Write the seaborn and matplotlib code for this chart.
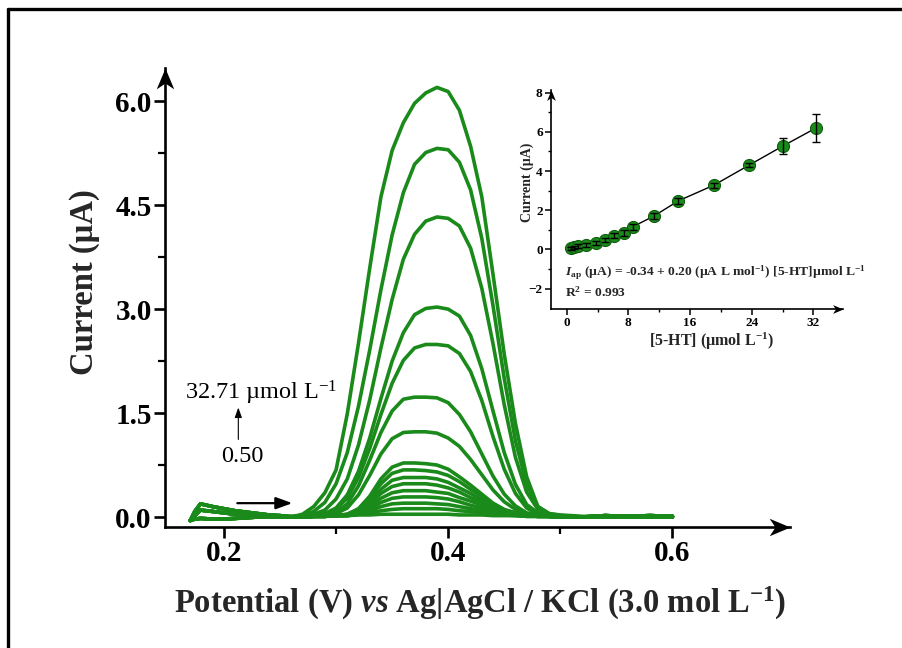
import numpy as np
import pandas as pd
import matplotlib
matplotlib.use("Agg")
import matplotlib.pyplot as plt
import seaborn as sns
from matplotlib.path import Path
from matplotlib.lines import Line2D

# ---------------- data ----------------
# potentials of the shared left baseline (scan start), peak region and right tail (V)
E_LEFT = [0.170, 0.174, 0.179, 0.19, 0.20, 0.21, 0.22, 0.23, 0.24, 0.25]
E_PEAK = [0.26, 0.27, 0.28, 0.29, 0.30, 0.31, 0.32, 0.33, 0.34, 0.35, 0.36, 0.37, 0.38,
          0.39, 0.40, 0.41, 0.42, 0.43, 0.44, 0.45, 0.46, 0.47, 0.48, 0.49, 0.50, 0.51, 0.52]
E_RIGHT = [0.53, 0.54, 0.56, 0.58, 0.60]

# baseline currents at scan start (three variants seen in the band) and at the tail (uA)
left_hi = [-0.05, 0.08, 0.19, 0.15, 0.12, 0.09, 0.07, 0.05, 0.03, 0.02]
left_mid = [-0.05, 0.02, 0.10, 0.08, 0.06, 0.04, 0.03, 0.02, 0.01, 0.01]
left_lo = [-0.05, -0.03, -0.02, -0.03, -0.03, -0.02, -0.01, 0.00, 0.00, 0.00]
right_lo = [0.00, 0.00, 0.00, 0.00, 0.00]
right_hi = [0.01, 0.02, 0.01, 0.02, 0.01]

# peak-region currents of each DPV curve (uA)
i_blank = [0.00, 0.00, 0.01, 0.01, 0.02, 0.02, 0.03, 0.03, 0.04, 0.04, 0.04, 0.04, 0.04, 0.04, 0.04, 0.03, 0.03, 0.03, 0.02, 0.02, 0.02, 0.01, 0.01, 0.01, 0.00, 0.00, 0.00]
i_c01 = [0.00, 0.00, 0.01, 0.01, 0.02, 0.02, 0.04, 0.06, 0.09, 0.11, 0.12, 0.12, 0.12, 0.12, 0.11, 0.09, 0.08, 0.06, 0.04, 0.03, 0.02, 0.01, 0.01, 0.01, 0.00, 0.00, 0.00]
i_c02 = [0.00, 0.00, 0.01, 0.01, 0.02, 0.02, 0.05, 0.09, 0.15, 0.19, 0.20, 0.20, 0.20, 0.19, 0.18, 0.15, 0.12, 0.09, 0.06, 0.04, 0.03, 0.01, 0.01, 0.01, 0.00, 0.00, 0.00]
i_c03 = [0.00, 0.00, 0.01, 0.01, 0.02, 0.02, 0.06, 0.12, 0.21, 0.27, 0.29, 0.29, 0.29, 0.28, 0.26, 0.22, 0.17, 0.13, 0.08, 0.05, 0.03, 0.02, 0.01, 0.01, 0.00, 0.00, 0.00]
i_c04 = [0.00, 0.00, 0.01, 0.01, 0.02, 0.03, 0.07, 0.16, 0.27, 0.35, 0.38, 0.38, 0.38, 0.36, 0.34, 0.28, 0.23, 0.17, 0.10, 0.06, 0.04, 0.02, 0.01, 0.01, 0.00, 0.00, 0.00]
i_c05 = [0.00, 0.00, 0.01, 0.01, 0.02, 0.03, 0.09, 0.19, 0.34, 0.44, 0.48, 0.48, 0.48, 0.46, 0.42, 0.36, 0.28, 0.21, 0.13, 0.08, 0.04, 0.02, 0.01, 0.01, 0.00, 0.00, 0.00]
i_c06 = [0.00, 0.00, 0.01, 0.01, 0.02, 0.03, 0.10, 0.23, 0.40, 0.53, 0.57, 0.57, 0.57, 0.55, 0.50, 0.42, 0.34, 0.24, 0.15, 0.09, 0.05, 0.02, 0.01, 0.01, 0.00, 0.00, 0.00]
i_c07 = [0.00, 0.00, 0.01, 0.01, 0.02, 0.04, 0.11, 0.27, 0.48, 0.63, 0.68, 0.68, 0.67, 0.65, 0.60, 0.51, 0.40, 0.29, 0.18, 0.10, 0.06, 0.02, 0.01, 0.01, 0.00, 0.00, 0.00]
i_c08 = [0.00, 0.00, 0.01, 0.01, 0.02, 0.04, 0.12, 0.30, 0.55, 0.72, 0.78, 0.78, 0.77, 0.75, 0.69, 0.58, 0.46, 0.33, 0.20, 0.11, 0.06, 0.03, 0.01, 0.01, 0.00, 0.00, 0.00]
i_c09 = [0.00, 0.00, 0.01, 0.01, 0.05, 0.13, 0.32, 0.60, 0.91, 1.13, 1.22, 1.23, 1.23, 1.21, 1.14, 1.02, 0.83, 0.61, 0.39, 0.22, 0.11, 0.04, 0.02, 0.01, 0.00, 0.00, 0.00]
i_c10 = [0.00, 0.00, 0.01, 0.02, 0.07, 0.19, 0.45, 0.82, 1.22, 1.53, 1.70, 1.73, 1.73, 1.72, 1.65, 1.48, 1.23, 0.91, 0.59, 0.33, 0.16, 0.06, 0.03, 0.01, 0.00, 0.00, 0.00]
i_c11 = [0.00, 0.00, 0.02, 0.04, 0.12, 0.27, 0.57, 0.99, 1.48, 1.93, 2.26, 2.44, 2.49, 2.49, 2.47, 2.36, 2.10, 1.68, 1.16, 0.69, 0.34, 0.13, 0.04, 0.02, 0.01, 0.00, 0.00]
i_c12 = [0.00, 0.00, 0.02, 0.05, 0.13, 0.32, 0.66, 1.14, 1.71, 2.25, 2.66, 2.92, 3.01, 3.03, 3.00, 2.90, 2.62, 2.14, 1.53, 0.93, 0.47, 0.18, 0.06, 0.02, 0.01, 0.00, 0.00]
i_c13 = [0.01, 0.01, 0.04, 0.10, 0.26, 0.55, 1.04, 1.69, 2.44, 3.14, 3.72, 4.08, 4.27, 4.33, 4.31, 4.20, 3.88, 3.30, 2.50, 1.62, 0.86, 0.36, 0.11, 0.04, 0.01, 0.01, 0.00]
i_c14 = [0.01, 0.02, 0.08, 0.21, 0.48, 0.93, 1.60, 2.41, 3.28, 4.07, 4.68, 5.09, 5.26, 5.32, 5.30, 5.12, 4.72, 4.02, 3.05, 2.00, 1.10, 0.47, 0.15, 0.05, 0.02, 0.01, 0.00]
i_c15 = [0.00, 0.04, 0.15, 0.35, 0.68, 1.49, 2.51, 3.59, 4.62, 5.29, 5.69, 5.97, 6.12, 6.20, 6.14, 5.87, 5.35, 4.62, 3.50, 2.35, 1.35, 0.58, 0.15, 0.05, 0.03, 0.02, 0.01]

curves = [i_blank, i_c01, i_c02, i_c03, i_c04, i_c05, i_c06, i_c07, i_c08,
          i_c09, i_c10, i_c11, i_c12, i_c13, i_c14, i_c15]
left_variants = [left_lo, left_mid, left_hi]
right_variants = [right_lo, right_hi]

# inset: calibration points
conc = [0.50, 0.99, 1.48, 2.44, 3.85, 4.98, 6.18, 7.40, 8.60, 11.30, 14.50, 19.10, 23.70, 28.10, 32.40]
ip = [0.05, 0.10, 0.17, 0.24, 0.34, 0.48, 0.70, 0.82, 1.16, 1.70, 2.48, 3.28, 4.31, 5.29, 6.21]
ip_err = [0.08, 0.08, 0.10, 0.10, 0.10, 0.10, 0.12, 0.15, 0.15, 0.15, 0.15, 0.12, 0.12, 0.40, 0.72]

main_yticks = [0.0, 1.5, 3.0, 4.5, 6.0]
main_yticklabels = ["0.0", "1.5", "3.0", "4.5", "6.0"]
main_xticks = [0.2, 0.4, 0.6]
main_xticklabels = ["0.2", "0.4", "0.6"]
inset_xticks = [0, 8, 16, 24, 32]
inset_yticks = [-2, 0, 2, 4, 6, 8]

GREEN = "#1a8a1a"

# ---------------- style ----------------
sns.set_theme(style="ticks")
plt.rcParams["font.family"] = ["Liberation Serif", "DejaVu Serif"]
plt.rcParams["mathtext.fontset"] = "custom"
plt.rcParams["mathtext.rm"] = "Liberation Serif"
plt.rcParams["mathtext.it"] = "Liberation Serif:italic"
plt.rcParams["mathtext.bf"] = "Liberation Serif:bold"
plt.rcParams["mathtext.bfit"] = "Liberation Serif:italic:bold"

W, H = 903, 648
fig = plt.figure(figsize=(W / 100, H / 100), dpi=100)
fig.patch.set_facecolor("white")


def fx(px):
    return px / W


def fy(py):
    return 1 - py / H


# arrow-head marker paths (tip at origin)
up_head = Path([(0, 0), (-0.42, -1), (0, -0.72), (0.42, -1), (0, 0)],
               [Path.MOVETO, Path.LINETO, Path.LINETO, Path.LINETO, Path.CLOSEPOLY])
right_head = Path([(0, 0), (-1, 0.42), (-0.72, 0), (-1, -0.42), (0, 0)],
                  [Path.MOVETO, Path.LINETO, Path.LINETO, Path.LINETO, Path.CLOSEPOLY])

# ---------------- main axes ----------------
ax = fig.add_axes([fx(165), fy(527), fx(790) - fx(165), fy(68) - fy(527)])
rows = []
for k, cur in enumerate(curves):
    lv = left_variants[k % 3]
    rv = right_variants[k % 2]
    es = E_LEFT + E_PEAK + E_RIGHT
    vals = lv + cur + rv
    for e, v in zip(es, vals):
        rows.append({"curve": k, "E": e, "I": v})
df = pd.DataFrame(rows)
sns.lineplot(data=df, x="E", y="I", units="curve", estimator=None, sort=False,
             color=GREEN, linewidth=2.6, ax=ax, legend=False)

ax.set_xlim(0.1474, 0.7049)
ax.set_ylim(-0.144, 6.48)
sns.despine(ax=ax)
for s in ["left", "bottom"]:
    ax.spines[s].set_linewidth(1.9)
    ax.spines[s].set_color("black")
ax.set_yticks(main_yticks)
ax.set_yticklabels(main_yticklabels)
ax.set_yticks([0.75, 2.25, 3.75, 5.25], minor=True)
ax.set_xticks(main_xticks)
ax.set_xticklabels(main_xticklabels)
ax.set_xticks([0.3, 0.5], minor=True)
ax.tick_params(which="major", direction="out", length=8, width=1.9, labelsize=21,
               colors="black", pad=1.5)
ax.tick_params(which="minor", direction="out", length=5, width=1.6, colors="black")
for lab in ax.get_xticklabels() + ax.get_yticklabels():
    lab.set_fontweight("bold")
ax.set_xlabel("")
ax.set_ylabel("")
ax.plot([0], [1], transform=ax.transAxes, marker=up_head, ms=30, color="black",
        mew=0, clip_on=False, zorder=5)
ax.plot([1], [0], transform=ax.transAxes, marker=right_head, ms=30, color="black",
        mew=0, clip_on=False, zorder=5)

# annotations
ax.text(0.1655, 1.79, "32.71 µmol L$^{\\mathregular{-1}}$", fontsize=17.5, ha="left",
        va="center", color="black")
ax.text(0.2160, 0.88, "0.50", fontsize=17.5, ha="center", va="center", color="black")
ax.annotate("", xy=(0.2128, 1.58), xytext=(0.2128, 1.12),
            arrowprops=dict(arrowstyle="-|>,head_length=0.5,head_width=0.18",
                            lw=0.8, color="black", shrinkA=0, shrinkB=0,
                            mutation_scale=12))
ax.annotate("", xy=(0.2610, 0.20), xytext=(0.2119, 0.20),
            arrowprops=dict(arrowstyle="-|>,head_length=0.55,head_width=0.2",
                            lw=1.6, color="black", shrinkA=0, shrinkB=0,
                            mutation_scale=18))

fig.text(fx(85), fy(282), "Current (µA)", rotation=90, fontsize=23.5,
         fontweight="bold", ha="center", va="center")
fig.text(fx(480), fy(603),
         "Potential (V) $\\mathbfit{vs}$ Ag|AgCl / KCl (3.0 mol L$^{\\mathbf{-1}}$)",
         fontsize=23.5, fontweight="bold", ha="center", va="center")

# ---------------- inset ----------------
ax2 = fig.add_axes([fx(551), fy(308.7), fx(843) - fx(551), fy(90) - fy(308.7)])
ax2.patch.set_alpha(0)
sns.lineplot(x=conc, y=ip, color="black", linewidth=1.0, ax=ax2, zorder=2)
ax2.errorbar(conc, ip, yerr=ip_err, fmt="none", ecolor="black", elinewidth=1.0,
             capsize=3, capthick=1.0, zorder=4)
sns.scatterplot(x=conc, y=ip, s=75, color=GREEN, edgecolor="#0e5e0e", linewidth=0.8,
                ax=ax2, zorder=3)
ax2.set_xlim(-2.04, 35.85)
ax2.set_ylim(-3.03, 8.14)
sns.despine(ax=ax2)
for s in ["left", "bottom"]:
    ax2.spines[s].set_linewidth(1.2)
    ax2.spines[s].set_color("black")
ax2.set_xticks(inset_xticks)
ax2.set_xticks([4, 12, 20, 28], minor=True)
ax2.set_yticks(inset_yticks)
ax2.set_yticks([-1, 1, 3, 5, 7], minor=True)
ax2.tick_params(which="major", direction="out", length=4, width=1.1, labelsize=9.5,
                colors="black", pad=2)
ax2.tick_params(which="minor", direction="out", length=2.5, width=1.0, colors="black")
for lab in ax2.get_xticklabels() + ax2.get_yticklabels():
    lab.set_fontweight("bold")
ax2.set_xlabel("")
ax2.set_ylabel("")
ax2.plot([0], [1], transform=ax2.transAxes, marker=up_head, ms=15, color="black",
         mew=0, clip_on=False, zorder=5)
ax2.plot([1], [0], transform=ax2.transAxes, marker=right_head, ms=15, color="black",
         mew=0, clip_on=False, zorder=5)

fig.text(fx(527), fy(182), "Current (µA)", rotation=90, fontsize=10,
         fontweight="bold", ha="center", va="center")
fig.text(fx(712), fy(341), "[5-HT] (µmol L$^{\\mathbf{-1}}$)", fontsize=11.5,
         fontweight="bold", ha="center", va="center")
fig.text(fx(565), fy(276),
         "$\\mathbfit{I}_{\\mathbf{ap}}$ (µA) = -0.34 + 0.20 (µA L mol$^{\\mathbf{-1}}$) "
         "[5-HT]µmol L$^{\\mathbf{-1}}$",
         fontsize=9.7, fontweight="bold", ha="left", va="baseline")
fig.text(fx(565), fy(297), "R$^{\\mathbf{2}}$ = 0.993", fontsize=9.7,
         fontweight="bold", ha="left", va="baseline")

# figure frame (top and left edges)
fig.add_artist(Line2D([fx(8), 1.0], [fy(9), fy(9)], color="black", lw=2.4,
                      transform=fig.transFigure))
fig.add_artist(Line2D([fx(8), fx(8)], [fy(9), 0.0], color="black", lw=2.4,
                      transform=fig.transFigure))

fig.savefig("out.png", dpi=100, facecolor="white")
